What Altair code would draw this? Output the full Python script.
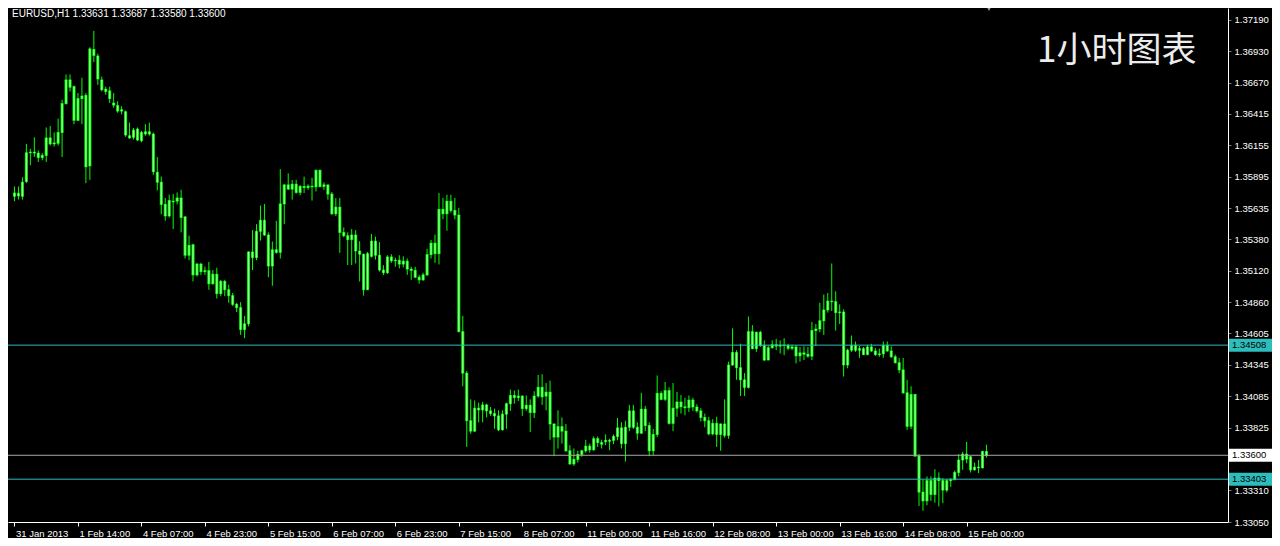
import altair as alt
import pandas as pd

# ---------------- data (EURUSD H1) ----------------
OPEN = [
    1.35735, 1.35760, 1.35735, 1.35857, 1.36094, 1.36099, 1.36091, 1.36054, 1.36072, 1.36216,
    1.36167, 1.36172, 1.36261, 1.36499, 1.36694, 1.36639, 1.36361, 1.36540, 1.36567, 1.35986,
    1.36945, 1.36891, 1.36694, 1.36618, 1.36604, 1.36504, 1.36483, 1.36437, 1.36432, 1.36234,
    1.36221, 1.36289, 1.36194, 1.36248, 1.36267, 1.36248, 1.35932, 1.35851, 1.35668, 1.35573,
    1.35695, 1.35695, 1.35721, 1.35565, 1.35249, 1.35335, 1.35087, 1.35176, 1.35114, 1.35122,
    1.35014, 1.35092, 1.34933, 1.35033, 1.34965, 1.34916, 1.34844, 1.34817, 1.34636, 1.34684,
    1.35276, 1.35230, 1.35446, 1.35537, 1.35416, 1.35160, 1.35294, 1.35273, 1.35672, 1.35829,
    1.35794, 1.35834, 1.35767, 1.35816, 1.35807, 1.35818, 1.35813, 1.35948, 1.35816, 1.35829,
    1.35753, 1.35591, 1.35645, 1.35437, 1.35410, 1.35378, 1.35416, 1.35284, 1.35257, 1.34965,
    1.35240, 1.35365, 1.35249, 1.35127, 1.35105, 1.35235, 1.35203, 1.35208, 1.35176, 1.35200,
    1.35135, 1.35124, 1.35068, 1.35046, 1.35087, 1.35254, 1.35348, 1.35262, 1.35627, 1.35591,
    1.35694, 1.35618, 1.35580, 1.34619, 1.34277, 1.33885, 1.33799, 1.33988, 1.33974, 1.34015,
    1.33966, 1.33944, 1.33925, 1.33810, 1.33939, 1.34025, 1.34093, 1.34076, 1.34088, 1.33985,
    1.34012, 1.33952, 1.34088, 1.34160, 1.34088, 1.34120, 1.33858, 1.33750, 1.33836, 1.33799,
    1.33637, 1.33529, 1.33566, 1.33607, 1.33637, 1.33675, 1.33645, 1.33737, 1.33705, 1.33712,
    1.33723, 1.33723, 1.33755, 1.33826, 1.33696, 1.33831, 1.33966, 1.33831, 1.33782, 1.33980,
    1.33845, 1.33637, 1.33772, 1.34110, 1.34061, 1.34133, 1.33863, 1.33988, 1.34039, 1.34000,
    1.33993, 1.34055, 1.33998, 1.33966, 1.33912, 1.33885, 1.33777, 1.33863, 1.33772, 1.33858,
    1.33764, 1.34344, 1.34447, 1.34322, 1.34222, 1.34160, 1.34619, 1.34479, 1.34614, 1.34506,
    1.34385, 1.34487, 1.34511, 1.34500, 1.34508, 1.34505, 1.34482, 1.34493, 1.34420, 1.34444,
    1.34433, 1.34417, 1.34628, 1.34641, 1.34709, 1.34798, 1.34871, 1.34866, 1.34776, 1.34781,
    1.34344, 1.34466, 1.34506, 1.34466, 1.34479, 1.34430, 1.34493, 1.34460, 1.34430, 1.34436,
    1.34506, 1.34460, 1.34412, 1.34363, 1.34304, 1.34115, 1.33839, 1.34101, 1.33593, 1.33296,
    1.33224, 1.33391, 1.33277, 1.33412, 1.33391, 1.33313, 1.33391, 1.33399, 1.33458, 1.33561,
    1.33610, 1.33588, 1.33480, 1.33502, 1.33496, 1.33631,
]
HIGH = [
    1.35816, 1.35816, 1.35892, 1.36167, 1.36126, 1.36221, 1.36113, 1.36091, 1.36302, 1.36315,
    1.36261, 1.36375, 1.36531, 1.36739, 1.36739, 1.36648, 1.36586, 1.36712, 1.36586, 1.36963,
    1.37098, 1.36910, 1.36721, 1.36639, 1.36639, 1.36586, 1.36518, 1.36477, 1.36442, 1.36342,
    1.36297, 1.36302, 1.36275, 1.36329, 1.36342, 1.36261, 1.36059, 1.35897, 1.35721, 1.35749,
    1.35754, 1.35767, 1.35789, 1.35573, 1.35411, 1.35344, 1.35187, 1.35187, 1.35155, 1.35194,
    1.35127, 1.35146, 1.35046, 1.35046, 1.35006, 1.34938, 1.34857, 1.34862, 1.34749, 1.35281,
    1.35456, 1.35505, 1.35659, 1.35672, 1.35437, 1.35362, 1.35532, 1.35959, 1.35834, 1.35924,
    1.35870, 1.35870, 1.35829, 1.35897, 1.35834, 1.35888, 1.35957, 1.35957, 1.35850, 1.35829,
    1.35770, 1.35720, 1.35720, 1.35478, 1.35437, 1.35465, 1.35456, 1.35365, 1.35262, 1.35276,
    1.35424, 1.35402, 1.35357, 1.35167, 1.35249, 1.35257, 1.35230, 1.35249, 1.35240, 1.35222,
    1.35154, 1.35154, 1.35087, 1.35105, 1.35302, 1.35375, 1.35420, 1.35762, 1.35721, 1.35748,
    1.35748, 1.35721, 1.35640, 1.34749, 1.34295, 1.34061, 1.34052, 1.34034, 1.34040, 1.34025,
    1.33998, 1.33985, 1.33971, 1.33971, 1.34034, 1.34142, 1.34134, 1.34142, 1.34093, 1.34093,
    1.34061, 1.34128, 1.34263, 1.34268, 1.34196, 1.34215, 1.33863, 1.33971, 1.33912, 1.33858,
    1.33683, 1.33656, 1.33637, 1.33647, 1.33728, 1.33696, 1.33755, 1.33755, 1.33728, 1.33772,
    1.33737, 1.33772, 1.33907, 1.33872, 1.33885, 1.34015, 1.34015, 1.33872, 1.34115, 1.34007,
    1.33872, 1.33817, 1.34258, 1.34128, 1.34204, 1.34160, 1.34196, 1.34123, 1.34096, 1.34074,
    1.34093, 1.34074, 1.34020, 1.33988, 1.33944, 1.33917, 1.33898, 1.33917, 1.33863, 1.34061,
    1.34371, 1.34646, 1.34466, 1.34520, 1.34277, 1.34744, 1.34673, 1.34619, 1.34627, 1.34547,
    1.34506, 1.34547, 1.34560, 1.34547, 1.34565, 1.34519, 1.34511, 1.34506, 1.34493, 1.34498,
    1.34493, 1.34700, 1.34682, 1.34857, 1.34925, 1.34938, 1.35181, 1.34952, 1.34844, 1.34803,
    1.34479, 1.34587, 1.34538, 1.34501, 1.34493, 1.34511, 1.34519, 1.34484, 1.34479, 1.34538,
    1.34538, 1.34498, 1.34430, 1.34403, 1.34403, 1.34222, 1.34169, 1.34106, 1.33610, 1.33399,
    1.33426, 1.33426, 1.33485, 1.33458, 1.33412, 1.33404, 1.33412, 1.33474, 1.33610, 1.33629,
    1.33710, 1.33593, 1.33539, 1.33561, 1.33637, 1.33687,
]
LOW = [
    1.35695, 1.35708, 1.35708, 1.35843, 1.35991, 1.36059, 1.36018, 1.36032, 1.36018, 1.36153,
    1.36145, 1.36153, 1.36059, 1.36491, 1.36599, 1.36329, 1.36356, 1.36329, 1.35843, 1.35870,
    1.36842, 1.36653, 1.36599, 1.36572, 1.36504, 1.36464, 1.36424, 1.36410, 1.36226, 1.36207,
    1.36202, 1.36189, 1.36180, 1.36234, 1.36234, 1.35911, 1.35784, 1.35587, 1.35533, 1.35560,
    1.35465, 1.35668, 1.35438, 1.35222, 1.35209, 1.35033, 1.35074, 1.35087, 1.35087, 1.34965,
    1.35006, 1.34892, 1.34911, 1.34911, 1.34857, 1.34830, 1.34781, 1.34592, 1.34565, 1.34663,
    1.35127, 1.35208, 1.35370, 1.35408, 1.35068, 1.34997, 1.35262, 1.35222, 1.35505, 1.35788,
    1.35707, 1.35756, 1.35743, 1.35762, 1.35788, 1.35699, 1.35775, 1.35807, 1.35788, 1.35707,
    1.35581, 1.35572, 1.35268, 1.35397, 1.35168, 1.35168, 1.35181, 1.35033, 1.34916, 1.34965,
    1.35230, 1.35213, 1.35114, 1.35086, 1.35095, 1.35186, 1.35154, 1.35141, 1.35149, 1.35087,
    1.35046, 1.35060, 1.35014, 1.35038, 1.35078, 1.35222, 1.35186, 1.35173, 1.35545, 1.35451,
    1.35599, 1.35545, 1.34614, 1.34169, 1.33669, 1.33777, 1.33791, 1.33872, 1.33872, 1.33912,
    1.33925, 1.33818, 1.33799, 1.33804, 1.33818, 1.33966, 1.34025, 1.34047, 1.33925, 1.33966,
    1.33791, 1.33907, 1.34074, 1.34015, 1.33971, 1.33728, 1.33593, 1.33655, 1.33696, 1.33629,
    1.33521, 1.33513, 1.33540, 1.33588, 1.33621, 1.33621, 1.33637, 1.33669, 1.33656, 1.33683,
    1.33642, 1.33691, 1.33723, 1.33656, 1.33548, 1.33799, 1.33817, 1.33728, 1.33777, 1.33799,
    1.33593, 1.33602, 1.33750, 1.34053, 1.34047, 1.33853, 1.33799, 1.33917, 1.33944, 1.33930,
    1.33958, 1.33966, 1.33952, 1.33879, 1.33831, 1.33764, 1.33764, 1.33669, 1.33637, 1.33745,
    1.33737, 1.34339, 1.34222, 1.34088, 1.34088, 1.34150, 1.34474, 1.34452, 1.34493, 1.34376,
    1.34385, 1.34479, 1.34466, 1.34439, 1.34425, 1.34466, 1.34466, 1.34357, 1.34372, 1.34385,
    1.34404, 1.34385, 1.34501, 1.34614, 1.34592, 1.34776, 1.34789, 1.34628, 1.34682, 1.34249,
    1.34317, 1.34452, 1.34452, 1.34403, 1.34425, 1.34425, 1.34452, 1.34420, 1.34412, 1.34403,
    1.34452, 1.34403, 1.34357, 1.34277, 1.34106, 1.33810, 1.33817, 1.33588, 1.33183, 1.33143,
    1.33188, 1.33224, 1.33210, 1.33178, 1.33205, 1.33296, 1.33340, 1.33394, 1.33426, 1.33480,
    1.33534, 1.33458, 1.33474, 1.33453, 1.33493, 1.33580,
]
CLOSE = [
    1.35762, 1.35738, 1.35851, 1.36094, 1.36099, 1.36091, 1.36054, 1.36072, 1.36216, 1.36167,
    1.36175, 1.36261, 1.36499, 1.36694, 1.36634, 1.36361, 1.36540, 1.36561, 1.35978, 1.36950,
    1.36896, 1.36702, 1.36613, 1.36599, 1.36540, 1.36486, 1.36437, 1.36448, 1.36240, 1.36216,
    1.36280, 1.36199, 1.36261, 1.36267, 1.36248, 1.35937, 1.35851, 1.35668, 1.35573, 1.35700,
    1.35689, 1.35721, 1.35560, 1.35249, 1.35330, 1.35087, 1.35176, 1.35114, 1.35122, 1.35014,
    1.35092, 1.34933, 1.35033, 1.34965, 1.34916, 1.34844, 1.34817, 1.34636, 1.34684, 1.35276,
    1.35230, 1.35446, 1.35537, 1.35416, 1.35160, 1.35294, 1.35273, 1.35672, 1.35829, 1.35794,
    1.35834, 1.35767, 1.35816, 1.35807, 1.35818, 1.35813, 1.35948, 1.35816, 1.35829, 1.35753,
    1.35591, 1.35645, 1.35437, 1.35410, 1.35378, 1.35416, 1.35284, 1.35257, 1.34965, 1.35262,
    1.35365, 1.35249, 1.35127, 1.35105, 1.35235, 1.35203, 1.35208, 1.35176, 1.35200, 1.35135,
    1.35124, 1.35068, 1.35046, 1.35087, 1.35254, 1.35348, 1.35262, 1.35627, 1.35591, 1.35694,
    1.35618, 1.35580, 1.34619, 1.34277, 1.33885, 1.33799, 1.33988, 1.33974, 1.34015, 1.33966,
    1.33944, 1.33925, 1.33810, 1.33939, 1.34025, 1.34093, 1.34076, 1.34088, 1.33985, 1.34012,
    1.33952, 1.34088, 1.34160, 1.34082, 1.34120, 1.33858, 1.33750, 1.33836, 1.33799, 1.33637,
    1.33529, 1.33566, 1.33607, 1.33637, 1.33675, 1.33645, 1.33737, 1.33705, 1.33691, 1.33723,
    1.33716, 1.33755, 1.33826, 1.33696, 1.33831, 1.33966, 1.33831, 1.33782, 1.33980, 1.33845,
    1.33637, 1.33772, 1.34110, 1.34061, 1.34133, 1.33863, 1.33988, 1.34039, 1.34000, 1.33993,
    1.34055, 1.33998, 1.33966, 1.33912, 1.33885, 1.33777, 1.33863, 1.33772, 1.33858, 1.33764,
    1.34344, 1.34447, 1.34322, 1.34222, 1.34160, 1.34619, 1.34479, 1.34614, 1.34506, 1.34385,
    1.34487, 1.34511, 1.34500, 1.34508, 1.34505, 1.34482, 1.34493, 1.34420, 1.34444, 1.34433,
    1.34417, 1.34628, 1.34641, 1.34709, 1.34798, 1.34871, 1.34866, 1.34776, 1.34781, 1.34344,
    1.34466, 1.34506, 1.34466, 1.34479, 1.34430, 1.34493, 1.34460, 1.34430, 1.34436, 1.34506,
    1.34460, 1.34412, 1.34363, 1.34304, 1.34115, 1.33839, 1.34101, 1.33593, 1.33296, 1.33224,
    1.33391, 1.33277, 1.33412, 1.33391, 1.33313, 1.33391, 1.33399, 1.33458, 1.33561, 1.33610,
    1.33569, 1.33480, 1.33502, 1.33496, 1.33631, 1.33600,
]

X_TICK_INDEX = [0, 16, 32, 48, 64, 80, 96, 112, 128, 144, 160, 176, 192, 208, 224, 240]
X_TICK_LABELS = [
    "31 Jan 2013", "1 Feb 14:00", "4 Feb 07:00", "4 Feb 23:00", "5 Feb 15:00",
    "6 Feb 07:00", "6 Feb 23:00", "7 Feb 15:00", "8 Feb 07:00", "11 Feb 00:00",
    "11 Feb 16:00", "12 Feb 08:00", "13 Feb 00:00", "13 Feb 16:00", "14 Feb 08:00",
    "15 Feb 00:00",
]
# 1.33565 sits under the 1.33600 price box in the reference, so it is not labelled
Y_TICKS = [1.37190, 1.36930, 1.36670, 1.36415, 1.36155, 1.35895, 1.35635, 1.35380,
           1.35120, 1.34860, 1.34605, 1.34345, 1.34085, 1.33825, 1.33310, 1.33050]
LEVEL_LINES = [1.34508, 1.33403]
BID_LINE = [1.33600]
HEADER = "EURUSD,H1  1.33631 1.33687 1.33580 1.33600"
TITLE = "1小时图表"

# ---------------- styling ----------------
W, H = 1220, 514
FONT = "Liberation Sans"
LIME = "#00ff00"
BODY_CENTER = "#b8ffb8"
CYAN = "#2ebdbd"
BID_GREY = "#a8a8a8"
WHITE = "#ffffff"

df = pd.DataFrame({"i": list(range(len(OPEN))), "open": OPEN, "high": HIGH,
                   "low": LOW, "close": CLOSE})

xscale = alt.Scale(domain=[-0.375, 304.625], nice=False, zero=False)
yscale = alt.Scale(domain=[1.33050, 1.37287], nice=False, zero=False)

idx_js = "[" + ",".join(str(v) for v in X_TICK_INDEX) + "]"
lab_js = "[" + ",".join("'" + s + "'" for s in X_TICK_LABELS) + "]"
label_expr = lab_js + "[indexof(" + idx_js + ", datum.value)]"

xaxis = alt.Axis(values=X_TICK_INDEX, labelExpr=label_expr, orient="bottom", title=None,
                 grid=False, domainColor=WHITE, domainWidth=1, tickColor=WHITE, tickSize=4,
                 tickWidth=1, labelColor=WHITE, labelFont=FONT, labelFontSize=9.5,
                 labelAlign="left", labelBaseline="top", labelPadding=2, labelOffset=1,
                 labelFlush=False, labelOverlap=False, labelBound=False)
yaxis = alt.Axis(orient="right", values=Y_TICKS, format=".5f", title=None, grid=False,
                 domainColor=WHITE, domainWidth=1, tickColor="#7a7a7a", tickSize=3,
                 labelColor=WHITE, labelFont=FONT, labelFontSize=9.5, labelAlign="left",
                 labelBaseline="middle", labelPadding=3, labelFlush=False,
                 labelOverlap=False, labelBound=False)


def X(field="i"):
    return alt.X(field + ":Q", scale=xscale, axis=xaxis)


def Y(field):
    return alt.Y(field + ":Q", scale=yscale, axis=yaxis)


base = alt.Chart(df)

wicks = base.mark_rule(color=LIME, strokeWidth=1).encode(x=X(), y=Y("low"), y2="high:Q")
bodies = base.mark_bar(size=3, color=LIME).encode(x=X(), y=Y("open"), y2="close:Q")
body_open = base.mark_tick(orient="horizontal", size=3, thickness=1, color=LIME).encode(
    x=X(), y=Y("open"))
body_close = base.mark_tick(orient="horizontal", size=3, thickness=1, color=LIME).encode(
    x=X(), y=Y("close"))
centers = base.mark_rule(color=BODY_CENTER, strokeWidth=1).encode(
    x=X(), y=Y("open"), y2="close:Q")

lv = pd.DataFrame({"p": LEVEL_LINES})
bid = pd.DataFrame({"p": BID_LINE})

level_rules = alt.Chart(lv).mark_rule(color=CYAN, strokeWidth=1).encode(y=Y("p"))
bid_rule = alt.Chart(bid).mark_rule(color=BID_GREY, strokeWidth=1).encode(y=Y("p"))

level_boxes = alt.Chart(lv).mark_rect(color=CYAN, yOffset=-6.5, y2Offset=6.5).encode(
    x=alt.value(W + 1), x2=alt.value(W + 44), y=Y("p"), y2="p:Q")
bid_box = alt.Chart(bid).mark_rect(color=WHITE, yOffset=-6.5, y2Offset=6.5).encode(
    x=alt.value(W + 1), x2=alt.value(W + 44), y=Y("p"), y2="p:Q")
level_text = alt.Chart(pd.concat([lv, bid])).mark_text(
    align="left", baseline="middle", font=FONT, fontSize=9.5, color="#000000"
).encode(x=alt.value(W + 4), y=Y("p"), text=alt.Text("p:Q", format=".5f"))

header = alt.Chart(pd.DataFrame({"t": [HEADER]})).mark_text(
    align="left", baseline="top", font=FONT, fontSize=10, color=WHITE
).encode(x=alt.value(4), y=alt.value(1), text="t:N")

title = alt.Chart(pd.DataFrame({"t": [TITLE]})).mark_text(
    align="left", baseline="middle", font="Noto Sans CJK SC", fontSize=35, color="#ececec"
).encode(x=alt.value(1029), y=alt.value(43), text="t:N")

shift_marker = alt.Chart(pd.DataFrame({"t": [0]})).mark_point(
    shape="triangle-down", size=22, filled=True, color="#9a9a9a", opacity=1
).encode(x=alt.value(981), y=alt.value(1))

chart = alt.layer(
    wicks, bodies, body_open, body_close, centers, level_rules, bid_rule,
    level_boxes, bid_box, level_text, header, title, shift_marker,
).properties(
    width=W, height=H, background="#000000",
    padding={"left": 0, "top": 0, "right": 44, "bottom": 16},
    autosize=alt.AutoSizeParams(type="none"),
).configure_view(stroke=None)

chart.save("out.html", embed_options={"renderer": "svg", "actions": False})
